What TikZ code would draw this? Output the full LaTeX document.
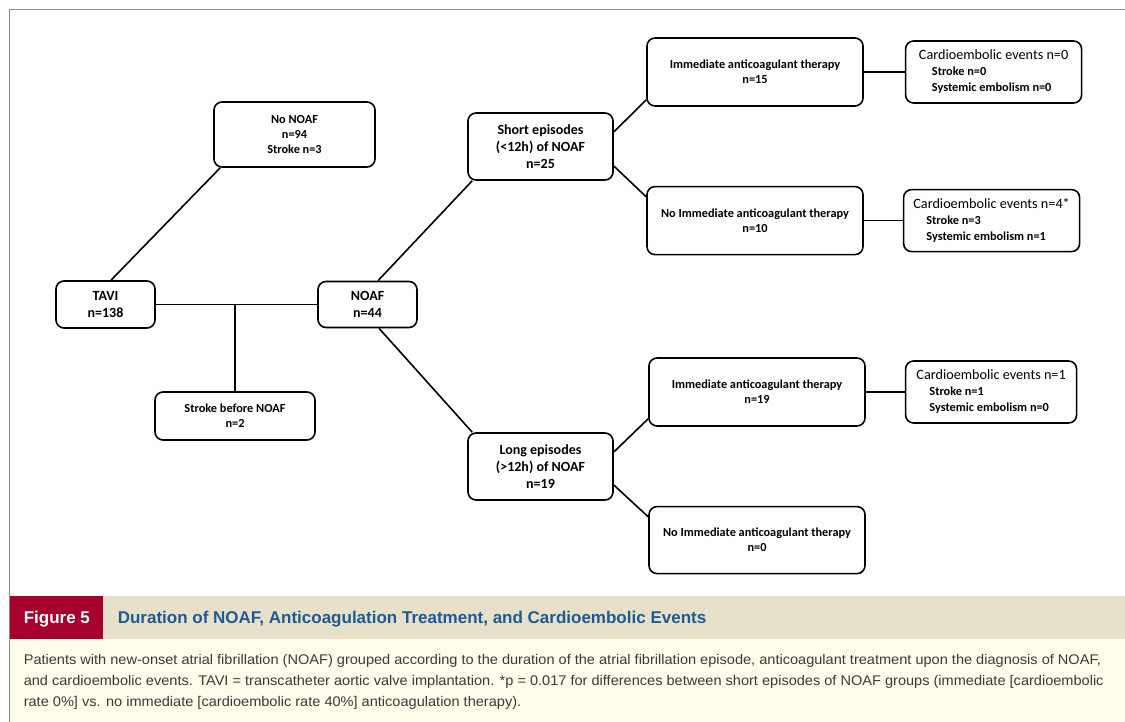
\documentclass[tikz,border=0pt]{standalone}
\usepackage{fontspec}
\setmainfont{Carlito}
\newfontfamily\capfont[FakeStretch=1.04]{Liberation Sans}
\newfontfamily\captitlefont{Liberation Sans}
\usepackage{tikz}
\usetikzlibrary{positioning}

\definecolor{figred}{HTML}{A6002E}
\definecolor{barbeige}{HTML}{E8E1C9}
\definecolor{capcream}{HTML}{FFFCEC}
\definecolor{titleblue}{HTML}{1D5A97}
\definecolor{framegray}{HTML}{8A8A8A}
\definecolor{captext}{HTML}{3A3A3A}

\newcommand{\celine}[1]{\hspace*{13pt}{\bfseries\fontsize{12.3}{16}\selectfont #1}}

\begin{document}
\begin{tikzpicture}[
            x = 1pt, y = -1pt, % pixel like units, y down
            line width = 1.6pt % boxes and connectors
        ]

        \tikzstyle{flowbox}=[
            draw,
            line width = 1.6pt,
            rounded corners = 8pt,
            align = center,
            inner sep = 2pt
        ]
        \tikzstyle{smalltext}=[font=\bfseries\fontsize{12.3}{15}\selectfont]
        \tikzstyle{bigtext}=[font=\bfseries\fontsize{14}{17}\selectfont]
        \tikzstyle{eventbox}=[flowbox, align = left, font=\fontsize{14.2}{16}\selectfont]

        % caption and frame
        \useasboundingbox (0,0) rectangle (1125,722);
        \fill[capcream] (9,639) rectangle (1125,722);
        \fill[barbeige] (9,596) rectangle (1125,639);
        \fill[figred] (9,596) rectangle (103,639);
        \draw[framegray, line width=1.5pt] (9.5,722) -- (9.5,9.5) -- (1125,9.5);

        \node[anchor=base west, inner sep=0, text=white, font=\captitlefont\bfseries\fontsize{17}{20}\selectfont] (fig) at (23,623) {Figure 5};
        \node[anchor=base west, inner sep=0, text=titleblue, font=\captitlefont\bfseries\fontsize{17}{20}\selectfont] (title) at (117,623) {Duration of NOAF, Anticoagulation Treatment, and Cardioembolic Events};
        \node[anchor=north west, inner sep=0, align=left, text=captext, font=\capfont\fontsize{14}{21}\selectfont] (legend) at (23,654)
            {Patients with new-onset atrial fibrillation (NOAF) grouped according to the duration of the atrial fibrillation episode, anticoagulant treatment upon the diagnosis of NOAF,\\
             and cardioembolic events. TAVI = transcatheter aortic valve implantation. *p = 0.017 for differences between short episodes of NOAF groups (immediate [cardioembolic\\
             rate 0\%] vs. no immediate [cardioembolic rate 40\%] anticoagulation therapy).};

        % flow chart
        \node[flowbox, bigtext, minimum width=99pt, minimum height=47pt] (TAVI) at (105.5,304.5) {TAVI\\n=138};
        \node[flowbox, bigtext, minimum width=99pt, minimum height=46pt] (NOAF) at (367.5,304.5) {NOAF\\n=44};
        \coordinate (split) at (235,304.5);

        \node[flowbox, smalltext, minimum width=161pt, minimum height=65pt] (NONOAF) at (294.5,134.5) {No NOAF\\n=94\\Stroke n=3};
        \node[flowbox, smalltext, minimum width=160pt, minimum height=48pt] (SBN) at (235,416) {Stroke before NOAF\\n=2};

        \node[flowbox, bigtext, minimum width=145pt, minimum height=67pt] (SHORT) at (540.5,146.5) {Short episodes\\(<12h) of NOAF\\n=25};
        \node[flowbox, bigtext, minimum width=145pt, minimum height=67pt] (LONG) at (540.5,466.5) {Long episodes\\(>12h) of NOAF\\n=19};

        \node[flowbox, smalltext, minimum width=216pt, minimum height=68pt] (SIA) at (755,72) {Immediate anticoagulant therapy\\n=15};
        \node[flowbox, smalltext, minimum width=216pt, minimum height=68pt] (SNIA) [below=79pt of SIA] {No Immediate anticoagulant therapy\\n=10};
        \node[flowbox, smalltext, minimum width=216pt, minimum height=68pt] (LIA) at (757,392) {Immediate anticoagulant therapy\\n=19};
        \node[flowbox, smalltext, minimum width=216pt, minimum height=67pt] (LNIA) [below=79pt of LIA] {No Immediate anticoagulant therapy\\n=0};

        \node[eventbox, minimum width=176pt, minimum height=62pt] (SIAE) [right=41pt of SIA]
            {Cardioembolic events n=0\\\celine{Stroke n=0}\\\celine{Systemic embolism n=0}};
        \node[eventbox, minimum width=176pt, minimum height=62pt] (SNIAE) [right=39pt of SNIA]
            {Cardioembolic events n=4*\\\celine{Stroke n=3}\\\celine{Systemic embolism n=1}};
        \node[eventbox, minimum width=171pt, minimum height=62pt] (LIAE) [right=39pt of LIA]
            {Cardioembolic events n=1\\\celine{Stroke n=1}\\\celine{Systemic embolism n=0}};

        \path[-]
            ([xshift=5.5pt]TAVI.north)  edge ([xshift=7pt]NONOAF.south west)
            (TAVI.east)                 edge (NOAF.west)
            (split)                     edge (SBN.north)
            ([xshift=10.5pt]NOAF.north) edge ([xshift=5pt]SHORT.south west)
            ([xshift=11.5pt]NOAF.south) edge ([xshift=5pt]LONG.north west)

            ([yshift=14.5pt]SHORT.east)  edge ([yshift=7pt]SIA.south west)
            ([yshift=-19.5pt]SHORT.east) edge ([yshift=-11pt]SNIA.north west)
            ([yshift=14.5pt]LONG.east)   edge ([yshift=8pt]LIA.south west)
            ([yshift=-18.5pt]LONG.east)  edge ([yshift=-11pt]LNIA.north west)

            (SIA)  edge (SIAE)
            (SNIA) edge (SNIAE)
            (LIA)  edge (LIAE);

\end{tikzpicture}
\end{document}
